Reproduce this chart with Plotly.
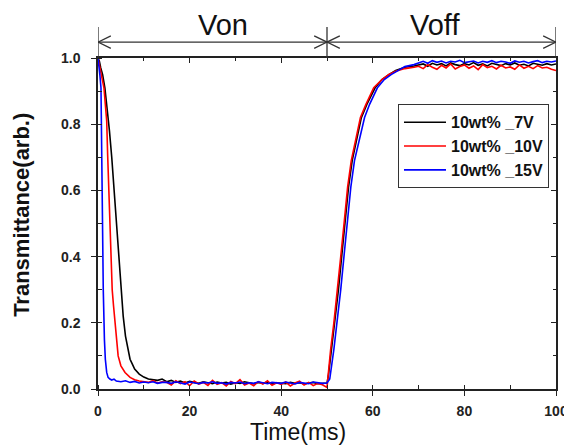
import plotly.graph_objects as go

# ---------------- data ----------------
# 10wt%_7V (black)
t_7v_on = [0, 0.3, 0.6, 1.0, 1.5, 2.0, 2.5, 3.0, 3.5, 4.0, 4.5, 5.0, 5.5, 6.0, 6.5, 7.0, 7.5, 8.0, 9.0, 10, 11, 12, 13, 14]
v_7v_on = [1.0, 0.99, 0.97, 0.95, 0.91, 0.85, 0.78, 0.70, 0.60, 0.52, 0.41, 0.30, 0.22, 0.16, 0.12, 0.09, 0.075, 0.06, 0.045, 0.036, 0.03, 0.028, 0.026, 0.03]
t_plateau_on = list(range(15, 50))
v_7v_low = [0.022, 0.026, 0.02, 0.024, 0.018, 0.023, 0.02, 0.017, 0.022, 0.019, 0.016, 0.021, 0.018, 0.02, 0.015,
            0.019, 0.017, 0.022, 0.018, 0.016, 0.02, 0.017, 0.021, 0.015, 0.019, 0.018, 0.016, 0.02, 0.017, 0.019,
            0.015, 0.018, 0.02, 0.016, 0.018]
t_7v_off = [50.0, 50.3, 51.0, 51.7, 52.5, 53.2, 54.0, 54.7, 55.5, 56.5, 57.5, 58.7, 60.5, 62, 63.5, 65, 67, 69]
v_7v_off = [0.018, 0.04, 0.12, 0.20, 0.30, 0.40, 0.51, 0.61, 0.69, 0.76, 0.82, 0.86, 0.91, 0.935, 0.95, 0.962, 0.972, 0.976]
t_plateau_off = list(range(70, 101))
v_7v_high = [0.978, 0.982, 0.975, 0.984, 0.979, 0.983, 0.976, 0.985, 0.98, 0.977, 0.983, 0.979, 0.986, 0.978, 0.982,
             0.976, 0.984, 0.98, 0.977, 0.983, 0.979, 0.985, 0.978, 0.981, 0.976, 0.984, 0.98, 0.978, 0.983, 0.979, 0.982]

# 10wt%_10V (red)
t_10v_on = [0, 0.3, 0.6, 1.0, 1.3, 1.6, 1.9, 2.1, 2.4, 2.6, 2.8, 3.1, 3.4, 3.7, 4.0, 4.4, 5.0, 5.9, 7, 8, 9, 10, 11, 12, 13, 14]
v_10v_on = [1.0, 0.98, 0.96, 0.93, 0.91, 0.86, 0.81, 0.71, 0.60, 0.50, 0.40, 0.30, 0.25, 0.20, 0.15, 0.10, 0.07, 0.05, 0.035, 0.028, 0.024, 0.022, 0.02, 0.025, 0.018, 0.022]
v_10v_low = [0.02, 0.012, 0.025, 0.016, 0.022, 0.01, 0.024, 0.015, 0.02, 0.011, 0.026, 0.014, 0.019, 0.009, 0.023,
             0.016, 0.028, 0.012, 0.018, 0.01, 0.022, 0.015, 0.025, 0.011, 0.019, 0.014, 0.021, 0.009, 0.018, 0.024,
             0.012, 0.02, 0.01, 0.017, 0.013]
t_10v_off = [50.0, 50.2, 50.8, 51.5, 52.3, 53.0, 53.8, 54.5, 55.3, 56.3, 57.3, 58.5, 60.2, 62, 63.5, 65, 67, 69]
v_10v_off = [0.005, 0.04, 0.12, 0.20, 0.30, 0.40, 0.51, 0.61, 0.69, 0.76, 0.82, 0.86, 0.91, 0.935, 0.95, 0.96, 0.968, 0.972]
v_10v_high = [0.975, 0.968, 0.98, 0.972, 0.966, 0.978, 0.97, 0.982, 0.967, 0.974, 0.979, 0.969, 0.976, 0.965, 0.98,
              0.971, 0.975, 0.967, 0.978, 0.97, 0.973, 0.966, 0.979, 0.969, 0.975, 0.968, 0.977, 0.97, 0.972, 0.966, 0.962]

# 10wt%_15V (blue)
t_15v_on = [0, 0.2, 0.4, 0.65, 0.8, 0.95, 1.15, 1.4, 1.6, 1.9, 2.2, 2.6, 3.0, 3.5, 4, 5, 6, 7, 8, 9, 10, 11, 12, 13, 14]
v_15v_on = [1.0, 0.98, 0.95, 0.91, 0.71, 0.50, 0.30, 0.15, 0.09, 0.05, 0.035, 0.03, 0.027, 0.03, 0.024, 0.022, 0.025, 0.02, 0.023, 0.018, 0.021, 0.019, 0.022, 0.017, 0.02]
v_15v_low = [0.02, 0.017, 0.022, 0.018, 0.015, 0.021, 0.019, 0.016, 0.02, 0.018, 0.022, 0.017, 0.019, 0.015, 0.02,
             0.018, 0.021, 0.016, 0.019, 0.017, 0.022, 0.018, 0.016, 0.02, 0.019, 0.017, 0.021, 0.018, 0.015, 0.02,
             0.018, 0.016, 0.021, 0.019, 0.017]
t_15v_off = [50.0, 50.6, 51.5, 52.2, 53.0, 53.7, 54.5, 55.2, 56.0, 57.2, 58.2, 59.3, 61, 62.5, 64, 65.5, 67, 69]
v_15v_off = [0.018, 0.03, 0.12, 0.20, 0.30, 0.40, 0.51, 0.61, 0.69, 0.76, 0.82, 0.86, 0.91, 0.935, 0.95, 0.962, 0.974, 0.98]
v_15v_high = [0.986, 0.99, 0.984, 0.992, 0.987, 0.991, 0.985, 0.99, 0.988, 0.993, 0.986, 0.989, 0.991, 0.985, 0.99,
              0.987, 0.992, 0.986, 0.99, 0.988, 0.984, 0.991, 0.987, 0.99, 0.985, 0.989, 0.992, 0.986, 0.99, 0.988, 0.991]

series_names = ["10wt% _7V", "10wt% _10V", "10wt% _15V"]
series_colors = ["#000000", "#ff0000", "#0000ff"]

x_ticks = [0, 20, 40, 60, 80, 100]
y_ticks = [0.0, 0.2, 0.4, 0.6, 0.8, 1.0]
phase_labels = ["Von", "Voff"]
phase_bounds = [0, 50, 100]

# ---------------- assemble ----------------
def join(*pairs):
    t, v = [], []
    for tt, vv in pairs:
        assert len(tt) == len(vv), (len(tt), len(vv))
        t += list(tt)
        v += list(vv)
    return t, v

series = [
    join((t_7v_on, v_7v_on), (t_plateau_on, v_7v_low), (t_7v_off, v_7v_off), (t_plateau_off, v_7v_high)),
    join((t_10v_on, v_10v_on), (t_plateau_on, v_10v_low), (t_10v_off, v_10v_off), (t_plateau_off, v_10v_high)),
    join((t_15v_on, v_15v_on), (t_plateau_on, v_15v_low), (t_15v_off, v_15v_off), (t_plateau_off, v_15v_high)),
]

FONT = "Arial, Liberation Sans, sans-serif"
AX = "#222222"

fig = go.Figure()
for (t, v), name, col in zip(series, series_names, series_colors):
    fig.add_trace(go.Scatter(x=t, y=v, mode="lines", name=name,
                             line=dict(color=col, width=1.6), cliponaxis=True))

# dummy trace so the mirrored top/right axes render
fig.add_trace(go.Scatter(x=[None], y=[None], xaxis="x2", yaxis="y2", showlegend=False, hoverinfo="skip"))

tickfont = dict(family=FONT, size=14, color=AX, weight="bold")

fig.update_layout(
    width=564, height=439,
    margin=dict(l=90, r=16, t=50, b=58, autoexpand=False),
    paper_bgcolor="white", plot_bgcolor="white",
    showlegend=True,
    legend=dict(x=0.655, y=0.86, xanchor="left", yanchor="top",
                bgcolor="white", bordercolor="#333333", borderwidth=1,
                font=dict(family=FONT, size=16, color="#111111", weight="bold"),
                itemwidth=42, tracegroupgap=0),
    xaxis=dict(range=[0, 100], tickvals=x_ticks, ticks="outside", ticklen=5, tickwidth=1.3, tickcolor=AX,
               showline=True, linecolor=AX, linewidth=1.5, showgrid=False, zeroline=False,
               tickfont=tickfont, ticklabelstandoff=3,
               minor=dict(dtick=10, ticks="inside", ticklen=4, tickwidth=1.2, tickcolor=AX, showgrid=False)),
    yaxis=dict(range=[0, 1], tickvals=y_ticks, tickformat=".1f", ticks="outside", ticklen=5, tickwidth=1.3,
               tickcolor=AX, showline=True, linecolor=AX, linewidth=1.5, showgrid=False, zeroline=False,
               tickfont=tickfont, ticklabelstandoff=8,
               minor=dict(dtick=0.1, ticks="inside", ticklen=4, tickwidth=1.2, tickcolor=AX, showgrid=False)),
    xaxis2=dict(overlaying="x", side="top", range=[0, 100], tickvals=x_ticks, ticks="inside", ticklen=5,
                tickwidth=1.3, tickcolor=AX, showline=True, linecolor=AX, linewidth=1.5, showticklabels=False,
                showgrid=False, zeroline=False,
                minor=dict(dtick=10, ticks="inside", ticklen=3, tickwidth=1.2, tickcolor=AX, showgrid=False)),
    yaxis2=dict(overlaying="y", side="right", range=[0, 1], tickvals=y_ticks, ticks="inside", ticklen=5,
                tickwidth=1.3, tickcolor=AX, showline=True, linecolor=AX, linewidth=1.5, showticklabels=False,
                showgrid=False, zeroline=False,
                minor=dict(dtick=0.1, ticks="inside", ticklen=3, tickwidth=1.2, tickcolor=AX, showgrid=False)),
)

# axis titles
fig.add_annotation(text="Time(ms)", xref="paper", yref="paper", x=0.437, y=-0.131,
                   showarrow=False, font=dict(family=FONT, size=23, color="#111111"),
                   xanchor="center", yanchor="middle")
fig.add_annotation(text="Transmittance(arb.)", xref="paper", yref="paper", x=-0.166, y=0.526,
                   textangle=-90, showarrow=False,
                   font=dict(family=FONT, size=22, color="#111111", weight="bold"),
                   xanchor="center", yanchor="middle")

# phase markers (Von / Voff) above the plot
y_line = 1.048
y_top = 1.094
arm_x = 2.8
arm_y = 0.019
line_style = dict(color="#333333", width=1.3)
for b in phase_bounds:
    fig.add_shape(type="line", xref="x", yref="paper", x0=b, x1=b, y0=1.0, y1=y_top, line=line_style)
fig.add_shape(type="line", xref="x", yref="paper", x0=phase_bounds[0], x1=phase_bounds[-1],
              y0=y_line, y1=y_line, line=line_style)
for i, lab in enumerate(phase_labels):
    a, b = phase_bounds[i], phase_bounds[i + 1]
    fig.add_shape(type="path", xref="x", yref="paper",
                  path=f"M {a + arm_x},{y_line + arm_y} L {a},{y_line} L {a + arm_x},{y_line - arm_y}",
                  line=line_style)
    fig.add_shape(type="path", xref="x", yref="paper",
                  path=f"M {b - arm_x},{y_line + arm_y} L {b},{y_line} L {b - arm_x},{y_line - arm_y}",
                  line=line_style)
xs_lab = [27.2, 73.6]
for xl, lab in zip(xs_lab, phase_labels):
    fig.add_annotation(text=lab, xref="x", yref="paper", x=xl, y=1.10, showarrow=False,
                       font=dict(family=FONT, size=29, color="#111111"),
                       xanchor="center", yanchor="middle")

fig.write_html("out.html")
